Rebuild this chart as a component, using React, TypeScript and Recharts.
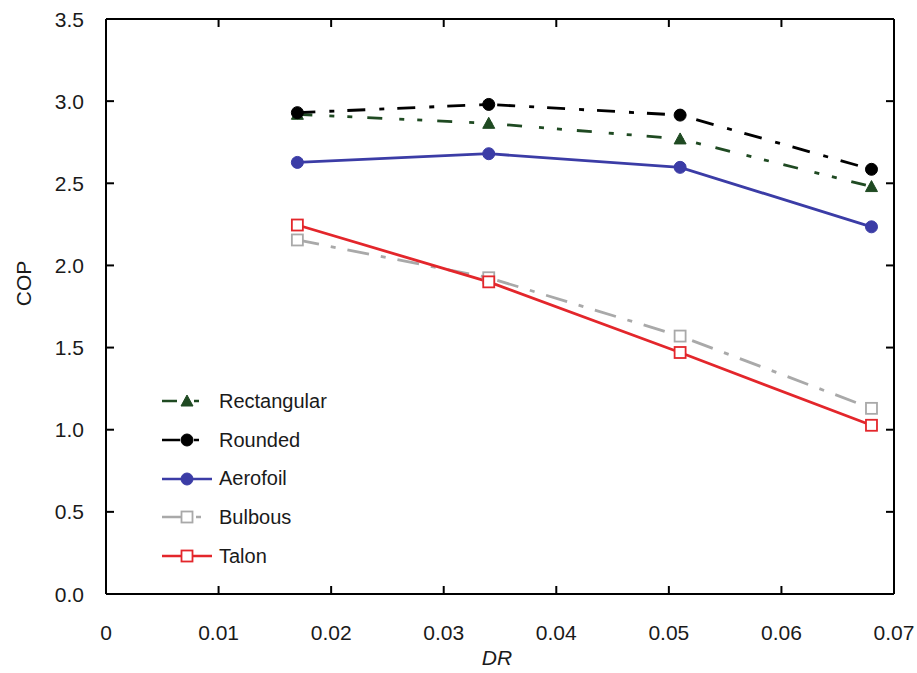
import { LineChart, Line, XAxis, YAxis, Legend, Label, ReferenceLine } from "recharts";

// DR values shared by every series
const drValues = [0.017, 0.034, 0.051, 0.068];

// COP
const rectangular = [2.92, 2.865, 2.77, 2.48];
const rounded = [2.93, 2.98, 2.915, 2.585];
const aerofoil = [2.627, 2.68, 2.597, 2.235];
const bulbous = [2.155, 1.925, 1.57, 1.13];
const talon = [2.246, 1.9, 1.47, 1.027];

const xTicks = [0, 0.01, 0.02, 0.03, 0.04, 0.05, 0.06, 0.07];
const yTicks = [0, 0.5, 1.0, 1.5, 2.0, 2.5, 3.0, 3.5];

const FONT = '"Liberation Sans", Arial, sans-serif';
const TICK_LEN = 8;
const AXIS_STYLE = { stroke: "#000", strokeWidth: 2 };

const data = drValues.map((dr, i) => ({
  dr,
  rectangular: rectangular[i],
  rounded: rounded[i],
  aerofoil: aerofoil[i],
  bulbous: bulbous[i],
  talon: talon[i],
}));

type Marker = "triangle" | "circle" | "square";

const series: { key: string; name: string; color: string; dash?: string; marker: Marker }[] = [
  { key: "bulbous", name: "Bulbous", color: "#a9a9a9", dash: "22 12 5 12", marker: "square" },
  { key: "talon", name: "Talon", color: "#e3262b", marker: "square" },
  { key: "aerofoil", name: "Aerofoil", color: "#3b3ca6", marker: "circle" },
  { key: "rectangular", name: "Rectangular", color: "#1f4a22", dash: "15 17 5 13 5 15", marker: "triangle" },
  { key: "rounded", name: "Rounded", color: "#000000", dash: "18 14 5 13", marker: "circle" },
];

const legendOrder = ["rectangular", "rounded", "aerofoil", "bulbous", "talon"];

function drawMarker(marker: Marker, color: string, cx: number, cy: number, key?: string) {
  if (marker === "triangle") {
    return (
      <polygon
        key={key}
        points={`${cx},${cy - 6} ${cx - 6},${cy + 5} ${cx + 6},${cy + 5}`}
        fill={color}
        stroke={color}
      />
    );
  }
  if (marker === "circle") {
    return <circle key={key} cx={cx} cy={cy} r={6} fill={color} stroke={color} />;
  }
  return (
    <rect key={key} x={cx - 5.5} y={cy - 5.5} width={11} height={11} fill="#fff" stroke={color} strokeWidth={1.8} />
  );
}

function makeDot(marker: Marker, color: string) {
  return (p: any) => {
    if (p.cx == null || p.cy == null) return <g key={`dot-${p.index}`} />;
    return drawMarker(marker, color, p.cx, p.cy, `dot-${p.index}`);
  };
}

const BottomTick = (p: any) => (
  <text x={p.x} y={p.y} dy="0.71em" textAnchor="middle" fontSize={21} fontFamily={FONT} fill="#1a1a1a">
    {p.payload.value === 0 ? "0" : p.payload.value.toFixed(2)}
  </text>
);

const LeftTick = (p: any) => (
  <text x={p.x} y={p.y} dy="0.36em" textAnchor="end" fontSize={21} fontFamily={FONT} fill="#1a1a1a">
    {p.payload.value.toFixed(1)}
  </text>
);

const NoLabel = () => <g />;

function LegendBox() {
  return (
    <div style={{ fontFamily: FONT, fontSize: 20, color: "#1a1a1a" }}>
      {legendOrder.map((k) => {
        const s = series.find((x) => x.key === k)!;
        return (
          <div key={k} style={{ display: "flex", alignItems: "center", height: 38.7 }}>
            <svg width={56} height={20} style={{ display: "block" }}>
              <line x1={0} x2={50} y1={10} y2={10} stroke={s.color} strokeWidth={2.5} strokeDasharray={s.dash} />
              {drawMarker(s.marker, s.color, 25, 10)}
            </svg>
            <span style={{ marginLeft: 1 }}>{s.name}</span>
          </div>
        );
      })}
    </div>
  );
}

export default function App() {
  return (
    <div style={{ position: "absolute", left: 0, top: 0, background: "#fff" }}>
      <LineChart width={917} height={673} data={data} margin={{ top: 18, right: 22, bottom: 0, left: 0 }}>
        <XAxis
          xAxisId="b"
          dataKey="dr"
          type="number"
          domain={[0, 0.07]}
          ticks={xTicks}
          height={79}
          tickSize={-TICK_LEN}
          tickLine={AXIS_STYLE}
          tickMargin={31 + TICK_LEN}
          tick={BottomTick}
          axisLine={AXIS_STYLE}
          interval={0}
        >
          <Label
            content={(props: any) => {
              const vb = props.viewBox;
              return (
                <text
                  x={vb.x + vb.width / 2 - 3}
                  y={vb.y + 71}
                  textAnchor="middle"
                  fontSize={21}
                  fontStyle="italic"
                  fontFamily={FONT}
                  fill="#1a1a1a"
                >
                  DR
                </text>
              );
            }}
          />
        </XAxis>
        <XAxis
          xAxisId="t"
          orientation="top"
          dataKey="dr"
          type="number"
          domain={[0, 0.07]}
          ticks={xTicks}
          height={1}
          tickSize={-TICK_LEN}
          tickLine={AXIS_STYLE}
          tick={NoLabel}
          axisLine={AXIS_STYLE}
          interval={0}
        />
        <YAxis
          yAxisId="l"
          type="number"
          domain={[0, 3.5]}
          ticks={yTicks}
          width={106}
          tickSize={-TICK_LEN}
          tickLine={AXIS_STYLE}
          tickMargin={22 + TICK_LEN}
          tick={LeftTick}
          axisLine={AXIS_STYLE}
          interval={0}
        >
          <Label
            content={(props: any) => {
              const vb = props.viewBox;
              const cx = vb.x + 23;
              const cy = vb.y + vb.height / 2 - 23;
              return (
                <text
                  x={cx}
                  y={cy}
                  transform={`rotate(-90 ${cx} ${cy})`}
                  textAnchor="middle"
                  dy="0.36em"
                  fontSize={21}
                  fontFamily={FONT}
                  fill="#1a1a1a"
                >
                  COP
                </text>
              );
            }}
          />
        </YAxis>
        <YAxis
          yAxisId="r"
          orientation="right"
          dataKey="rounded"
          type="number"
          domain={[0, 3.5]}
          allowDataOverflow
          ticks={yTicks}
          width={1}
          tickSize={-TICK_LEN}
          tickLine={AXIS_STYLE}
          tick={NoLabel}
          axisLine={AXIS_STYLE}
          interval={0}
        />
        {/* box edges, in case the bare top/right axes are skipped */}
        <ReferenceLine xAxisId="b" yAxisId="l" y={3.5} stroke="#000" strokeWidth={2} />
        <ReferenceLine xAxisId="b" yAxisId="l" x={0.07} stroke="#000" strokeWidth={2} />
        <Legend
          layout="vertical"
          align="center"
          verticalAlign="middle"
          content={() => <LegendBox />}
          wrapperStyle={{ left: 162, top: 382, width: "auto", right: "auto", bottom: "auto" }}
        />
        {series.map((s) => (
          <Line
            key={s.key}
            xAxisId="b"
            yAxisId="l"
            type="linear"
            dataKey={s.key}
            name={s.name}
            stroke={s.color}
            strokeWidth={2.8}
            strokeDasharray={s.dash}
            dot={makeDot(s.marker, s.color)}
            activeDot={false}
            isAnimationActive={false}
          />
        ))}
      </LineChart>
    </div>
  );
}
